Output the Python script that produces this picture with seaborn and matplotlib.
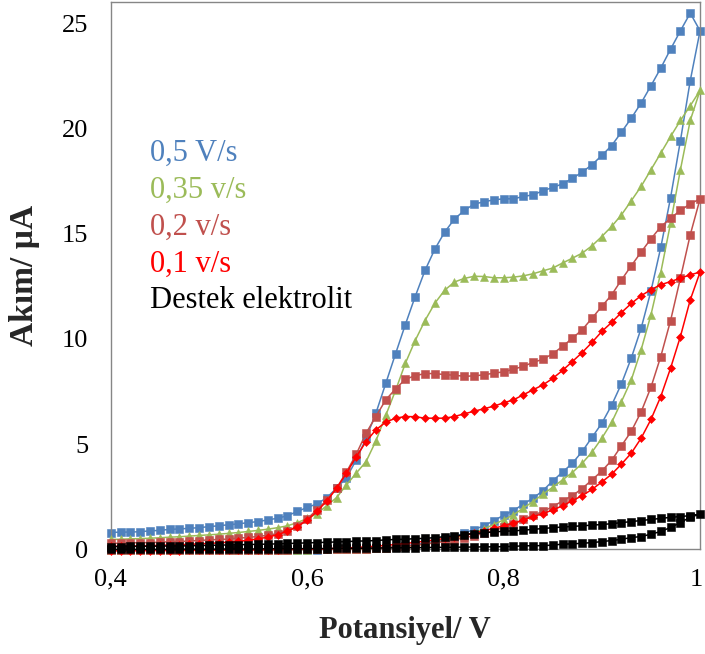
import matplotlib
matplotlib.use("Agg")
import matplotlib.pyplot as plt
import matplotlib.transforms as mtransforms
import seaborn as sns
import pandas as pd

# ---------------- data ----------------
potential_fwd = [0.40, 0.41, 0.42, 0.43, 0.44, 0.45, 0.46, 0.47, 0.48, 0.49,
                 0.50, 0.51, 0.52, 0.53, 0.54, 0.55, 0.56, 0.57, 0.58, 0.59,
                 0.60, 0.61, 0.62, 0.63, 0.64, 0.65, 0.66, 0.67, 0.68, 0.69,
                 0.70, 0.71, 0.72, 0.73, 0.74, 0.75, 0.76, 0.77, 0.78, 0.79,
                 0.80, 0.81, 0.82, 0.83, 0.84, 0.85, 0.86, 0.87, 0.88, 0.89,
                 0.90, 0.91, 0.92, 0.93, 0.94, 0.95, 0.96, 0.97, 0.98, 0.99,
                 1.00]
potential_rev = [0.99, 0.98, 0.97, 0.96, 0.95, 0.94, 0.93, 0.92, 0.91, 0.90,
                 0.89, 0.88, 0.87, 0.86, 0.85, 0.84, 0.83, 0.82, 0.81, 0.80,
                 0.79, 0.78, 0.77, 0.76, 0.75, 0.74, 0.73, 0.72, 0.71, 0.70,
                 0.69, 0.68, 0.67, 0.66, 0.65, 0.64, 0.63, 0.62, 0.61, 0.60,
                 0.59, 0.58, 0.57, 0.56, 0.55, 0.54, 0.53, 0.52, 0.51, 0.50,
                 0.49, 0.48, 0.47, 0.46, 0.45, 0.44, 0.43, 0.42, 0.41, 0.40]

# 0,5 V/s
i05_fwd = [0.80, 0.82, 0.82, 0.84, 0.88, 0.90, 0.95, 0.97, 1.00, 1.03,
           1.08, 1.12, 1.17, 1.21, 1.27, 1.32, 1.40, 1.48, 1.60, 1.80,
           1.99, 2.16, 2.45, 2.91, 3.40, 4.25, 5.28, 6.47, 7.88, 9.29,
           10.68, 12.01, 13.25, 14.26, 15.07, 15.69, 16.10, 16.40, 16.51, 16.60,
           16.65, 16.65, 16.76, 16.84, 17.03, 17.19, 17.36, 17.62, 17.92, 18.27,
           18.71, 19.18, 19.82, 20.48, 21.20, 22.02, 22.86, 23.76, 24.63, 25.47,
           24.63]
i05_rev = [22.26, 19.41, 16.71, 14.34, 12.27, 10.50, 9.09, 7.87, 6.85, 5.99,
           5.32, 4.65, 4.09, 3.67, 3.25, 2.79, 2.43, 2.15, 1.84, 1.62,
           1.36, 1.12, 0.94, 0.78, 0.60, 0.48, 0.38, 0.30, 0.23, 0.17,
           0.12, 0.08, 0.05, 0.03, 0.02, 0.01, 0.00, 0.00, -0.01, -0.01,
           -0.01, -0.01, -0.02, -0.02, -0.02, -0.02, -0.02, -0.02, -0.03, -0.03,
           -0.03, -0.03, -0.03, -0.03, -0.03, -0.03, -0.04, -0.04, -0.04, -0.04]

# 0,35 v/s
i035_fwd = [0.47, 0.48, 0.50, 0.51, 0.53, 0.55, 0.58, 0.60, 0.63, 0.66,
            0.69, 0.72, 0.76, 0.80, 0.85, 0.90, 0.96, 1.03, 1.12, 1.27,
            1.47, 1.69, 2.08, 2.46, 3.06, 3.62, 4.17, 5.15, 6.36, 7.55,
            8.84, 9.92, 10.87, 11.69, 12.31, 12.70, 12.87, 12.97, 12.96, 12.90,
            12.90, 12.93, 12.99, 13.09, 13.23, 13.36, 13.60, 13.83, 14.07, 14.42,
            14.86, 15.34, 15.89, 16.56, 17.24, 18.03, 18.82, 19.61, 20.37, 21.07,
            21.80]
i035_rev = [20.37, 18.03, 15.50, 13.15, 11.14, 9.48, 8.05, 7.02, 6.03, 5.28,
            4.62, 4.09, 3.65, 3.30, 2.95, 2.62, 2.27, 1.96, 1.64, 1.40,
            1.18, 0.98, 0.80, 0.65, 0.52, 0.41, 0.32, 0.25, 0.19, 0.14,
            0.10, 0.07, 0.05, 0.03, 0.02, 0.01, 0.00, 0.00, 0.00, -0.01,
            -0.01, -0.01, -0.01, -0.02, -0.02, -0.02, -0.02, -0.02, -0.02, -0.03,
            -0.03, -0.03, -0.03, -0.03, -0.03, -0.03, -0.04, -0.04, -0.04, -0.04]

# 0,2 v/s
i02_fwd = [0.29, 0.29, 0.31, 0.32, 0.32, 0.34, 0.36, 0.37, 0.40, 0.42,
           0.45, 0.47, 0.49, 0.53, 0.57, 0.61, 0.67, 0.75, 0.87, 1.10,
           1.45, 1.88, 2.35, 2.91, 3.67, 4.52, 5.52, 6.31, 7.10, 7.62,
           8.08, 8.25, 8.35, 8.35, 8.30, 8.27, 8.22, 8.24, 8.29, 8.37,
           8.43, 8.56, 8.69, 8.88, 9.03, 9.29, 9.64, 10.03, 10.43, 10.98,
           11.54, 12.09, 12.80, 13.47, 14.12, 14.75, 15.32, 15.73, 16.10, 16.41,
           16.65]
i02_rev = [14.94, 12.88, 10.87, 9.16, 7.70, 6.53, 5.61, 4.92, 4.23, 3.72,
           3.30, 2.89, 2.55, 2.30, 2.03, 1.80, 1.62, 1.42, 1.20, 1.05,
           0.88, 0.76, 0.65, 0.55, 0.46, 0.38, 0.31, 0.25, 0.20, 0.15,
           0.11, 0.08, 0.06, 0.04, 0.03, 0.02, 0.01, 0.01, 0.00, 0.00,
           0.00, -0.01, -0.01, -0.01, -0.02, -0.02, -0.02, -0.02, -0.03, -0.03,
           -0.03, -0.03, -0.03, -0.04, -0.04, -0.04, -0.04, -0.04, -0.05, -0.05]

# 0,1 v/s
i01_fwd = [0.15, 0.15, 0.16, 0.17, 0.18, 0.19, 0.21, 0.22, 0.24, 0.26,
           0.28, 0.31, 0.34, 0.38, 0.43, 0.50, 0.58, 0.70, 0.86, 1.08,
           1.38, 1.80, 2.30, 2.90, 3.62, 4.40, 5.12, 5.68, 6.04, 6.23,
           6.31, 6.30, 6.23, 6.23, 6.23, 6.31, 6.44, 6.56, 6.68, 6.80,
           6.96, 7.10, 7.34, 7.58, 7.81, 8.12, 8.50, 8.92, 9.35, 9.83,
           10.35, 10.78, 11.25, 11.68, 12.05, 12.33, 12.57, 12.72, 12.88, 13.04,
           13.17]
i01_rev = [11.85, 10.11, 8.61, 7.26, 6.17, 5.28, 4.57, 4.05, 3.57, 3.20,
           2.85, 2.55, 2.31, 2.07, 1.87, 1.70, 1.56, 1.39, 1.24, 1.12,
           1.00, 0.88, 0.78, 0.68, 0.60, 0.52, 0.45, 0.39, 0.33, 0.28,
           0.23, 0.19, 0.15, 0.12, 0.09, 0.07, 0.05, 0.03, 0.02, 0.01,
           0.00, 0.00, -0.01, -0.02, -0.02, -0.03, -0.03, -0.04, -0.04, -0.05,
           -0.05, -0.05, -0.06, -0.06, -0.06, -0.06, -0.07, -0.07, -0.07, -0.07]

# Destek elektrolit
ibg_fwd = [0.13, 0.13, 0.14, 0.14, 0.15, 0.15, 0.16, 0.16, 0.17, 0.18,
           0.19, 0.20, 0.21, 0.22, 0.23, 0.24, 0.25, 0.26, 0.28, 0.29,
           0.31, 0.32, 0.34, 0.35, 0.37, 0.39, 0.40, 0.42, 0.45, 0.47,
           0.48, 0.51, 0.52, 0.56, 0.60, 0.63, 0.70, 0.75, 0.79, 0.83,
           0.86, 0.88, 0.91, 0.95, 0.99, 1.03, 1.06, 1.09, 1.12, 1.15,
           1.18, 1.22, 1.27, 1.32, 1.37, 1.42, 1.47, 1.52, 1.56, 1.60,
           1.67]
ibg_rev = [1.53, 1.27, 1.04, 0.85, 0.72, 0.61, 0.56, 0.48, 0.42, 0.37,
           0.32, 0.29, 0.26, 0.25, 0.20, 0.18, 0.17, 0.17, 0.14, 0.13,
           0.12, 0.12, 0.11, 0.11, 0.10, 0.10, 0.09, 0.09, 0.08, 0.08,
           0.07, 0.07, 0.06, 0.06, 0.05, 0.05, 0.05, 0.04, 0.04, 0.04,
           0.03, 0.03, 0.03, 0.03, 0.02, 0.02, 0.02, 0.02, 0.01, 0.01,
           0.01, 0.01, 0.01, 0.00, 0.00, 0.00, 0.00, 0.00, 0.00, 0.00]

series_labels = ["0,5 V/s", "0,35 v/s", "0,2 v/s", "0,1 v/s", "Destek elektrolit"]
series_fwd = [i05_fwd, i035_fwd, i02_fwd, i01_fwd, ibg_fwd]
series_rev = [i05_rev, i035_rev, i02_rev, i01_rev, ibg_rev]

x_ticks = [0.4, 0.6, 0.8, 1.0]
x_tick_labels = ["0,4", "0,6", "0,8", "1"]
y_ticks = [0, 5, 10, 15, 20, 25]

# ---------------- styling ----------------
colors = ["#4F81BD", "#9BBB59", "#C0504D", "#FF0000", "#000000"]
markers = ["s", "^", "s", "D", "s"]
msizes = [5.4, 5.8, 5.4, 3.8, 5.6]

sns.set_style("white")
plt.rcParams["font.family"] = ["Liberation Serif", "DejaVu Serif"]

fig = plt.figure(figsize=(7.05, 6.54), dpi=100)
ax = fig.add_axes([0.157, 0.160, 0.836, 0.837])

frames = []
for lab, fwd, rev in zip(series_labels, series_fwd, series_rev):
    xs = potential_fwd + potential_rev
    ys = fwd + rev
    frames.append(pd.DataFrame({"E": xs, "I": ys, "step": range(len(xs)), "series": lab}))
df = pd.concat(frames, ignore_index=True)

for k, lab in enumerate(series_labels):
    sub = df[df["series"] == lab]
    sns.lineplot(data=sub, x="E", y="I", sort=False, estimator=None, ax=ax,
                 color=colors[k], linewidth=1.1, marker=markers[k],
                 markersize=msizes[k], markeredgewidth=0.4,
                 markeredgecolor=colors[k], legend=False, clip_on=False,
                 zorder=2 + k)

ax.set_xlim(0.4, 1.0)
ax.set_ylim(0, 26)
ax.set_xticks(x_ticks)
ax.set_xticklabels(x_tick_labels)
ax.set_yticks(y_ticks)

gray = "#868686"
for sp in ax.spines.values():
    sp.set_color(gray)
    sp.set_linewidth(1.0)
ax.tick_params(axis="both", direction="out", length=6, width=1, color=gray,
               labelsize=19, labelcolor="black", pad=8)
ax.tick_params(axis="y", pad=10)

# keep the last x tick label ("1") inside the figure
last = ax.get_xticklabels()[-1]
last.set_transform(last.get_transform() +
                   mtransforms.ScaledTranslation(-4 / 100, 0, fig.dpi_scale_trans))

ax.set_xlabel("Potansiyel/ V", fontsize=22, fontweight="bold", labelpad=18)
ax.set_ylabel("Akım/ µA", fontsize=24, fontweight="bold", labelpad=16)

label_y = [0.724, 0.655, 0.588, 0.520, 0.454]
for lab, c, yy in zip(series_labels, colors, label_y):
    ax.text(0.067, yy, lab, color=c, fontsize=22, transform=ax.transAxes,
            ha="left", va="center")

fig.savefig("out.png", dpi=100)
